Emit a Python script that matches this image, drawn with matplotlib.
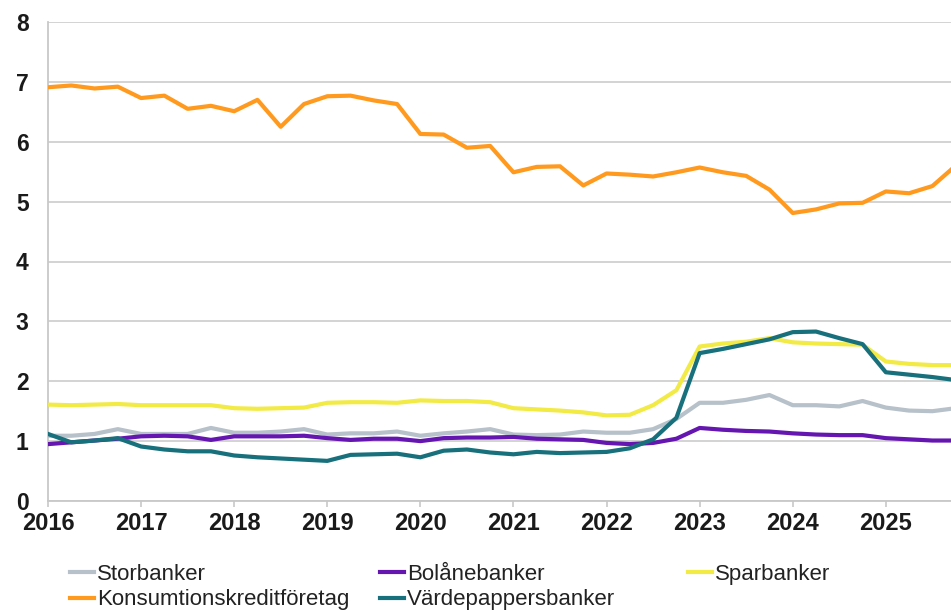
#!/usr/bin/env python3
# Quarterly line chart per bank category, 2016-2025, with legend below.
import numpy as np
import matplotlib
matplotlib.use("Agg")
import matplotlib.pyplot as plt

first_year = 2016
years = [2016, 2017, 2018, 2019, 2020, 2021, 2022, 2023, 2024, 2025]

storbanker = [1.09, 1.09, 1.12, 1.20, 1.12, 1.12, 1.12, 1.22,
              1.14, 1.14, 1.16, 1.20, 1.11, 1.13, 1.13, 1.16,
              1.09, 1.13, 1.16, 1.20, 1.11, 1.10, 1.11, 1.16,
              1.14, 1.14, 1.20, 1.37, 1.64, 1.64, 1.69, 1.77,
              1.60, 1.60, 1.58, 1.67, 1.56, 1.51, 1.50, 1.55]
bolanebanker = [0.95, 0.98, 1.01, 1.04, 1.08, 1.09, 1.08, 1.02,
                1.08, 1.08, 1.08, 1.09, 1.05, 1.02, 1.04, 1.04,
                1.00, 1.05, 1.06, 1.06, 1.07, 1.04, 1.03, 1.02,
                0.97, 0.95, 0.97, 1.04, 1.22, 1.19, 1.17, 1.16,
                1.13, 1.11, 1.10, 1.10, 1.05, 1.03, 1.01, 1.01]
sparbanker = [1.61, 1.60, 1.61, 1.62, 1.60, 1.60, 1.60, 1.60,
              1.55, 1.54, 1.55, 1.56, 1.64, 1.65, 1.65, 1.64,
              1.68, 1.67, 1.67, 1.65, 1.55, 1.53, 1.51, 1.48,
              1.43, 1.44, 1.60, 1.85, 2.58, 2.63, 2.66, 2.72,
              2.65, 2.63, 2.62, 2.61, 2.33, 2.29, 2.27, 2.27]
konsumtion = [6.91, 6.94, 6.89, 6.92, 6.73, 6.77, 6.55, 6.60,
              6.51, 6.70, 6.25, 6.63, 6.76, 6.77, 6.69, 6.63,
              6.13, 6.12, 5.90, 5.93, 5.49, 5.58, 5.59, 5.27,
              5.47, 5.45, 5.42, 5.49, 5.57, 5.49, 5.43, 5.20,
              4.81, 4.87, 4.97, 4.98, 5.17, 5.14, 5.26, 5.60]
vardepapper = [1.12, 0.98, 1.01, 1.05, 0.91, 0.86, 0.83, 0.83,
               0.76, 0.73, 0.71, 0.69, 0.67, 0.77, 0.78, 0.79,
               0.73, 0.84, 0.86, 0.81, 0.78, 0.82, 0.80, 0.81,
               0.82, 0.88, 1.03, 1.39, 2.47, 2.54, 2.62, 2.70,
               2.82, 2.83, 2.72, 2.62, 2.15, 2.11, 2.07, 2.02]

series = [
    ("Storbanker", storbanker, "#b7c1c9"),
    ("Bolånebanker", bolanebanker, "#6516b0"),
    ("Sparbanker", sparbanker, "#f2ea45"),
    ("Konsumtionskreditföretag", konsumtion, "#ff9a1f"),
    ("Värdepappersbanker", vardepapper, "#17707c"),
]

plt.rcParams["font.family"] = ["Liberation Sans", "DejaVu Sans"]

fig = plt.figure(figsize=(9.51, 6.11), dpi=100)
ax = fig.add_axes([48 / 951, 1 - 501 / 611, 1 - 48 / 951, (501 - 22) / 611])

x = first_year + np.arange(len(storbanker)) / 4
handles = {}
for name, vals, col in series:
    (ln,) = ax.plot(x, vals, color=col, lw=3.0, solid_joinstyle="round",
                    zorder=3)
    handles[name] = ln

ax.set_xlim(first_year, first_year + 9.70)
ax.set_ylim(0, 8)
ax.set_yticks(range(0, 9))
ax.set_xticks(years)
ax.set_xticklabels([str(y) for y in years])

ax.grid(axis="y", color="#d0d0d0", lw=1.3, zorder=0)
ax.set_axisbelow(True)
for s in ["top", "right"]:
    ax.spines[s].set_visible(False)
ax.spines["left"].set_color("#c8c8c8")
ax.spines["left"].set_linewidth(1.3)
ax.spines["bottom"].set_color("#c8c8c8")
ax.spines["bottom"].set_linewidth(1.3)

ax.tick_params(axis="y", length=0, pad=14, labelsize=16.5, labelcolor="#1a1a1a")
ax.tick_params(axis="x", length=4, width=1.2, color="#c8c8c8", pad=4,
               labelsize=17, labelcolor="#1a1a1a")
for lab in ax.get_xticklabels() + ax.get_yticklabels():
    lab.set_fontweight("bold")

# legend: three columns, row-wise order like the original
columns = [
    (["Storbanker", "Konsumtionskreditföretag"], 70),
    (["Bolånebanker", "Värdepappersbanker"], 380),
    (["Sparbanker"], 688),
]
for names, xpx in columns:
    fig.legend([handles[n] for n in names], names, loc="upper left",
               bbox_to_anchor=(xpx / 951, 1 - 564 / 611), frameon=False,
               fontsize=16, handlelength=1.1, handletextpad=0.1,
               labelspacing=0.2, borderpad=0, borderaxespad=0,
               labelcolor="#222222")

fig.savefig("out.png", dpi=100)
